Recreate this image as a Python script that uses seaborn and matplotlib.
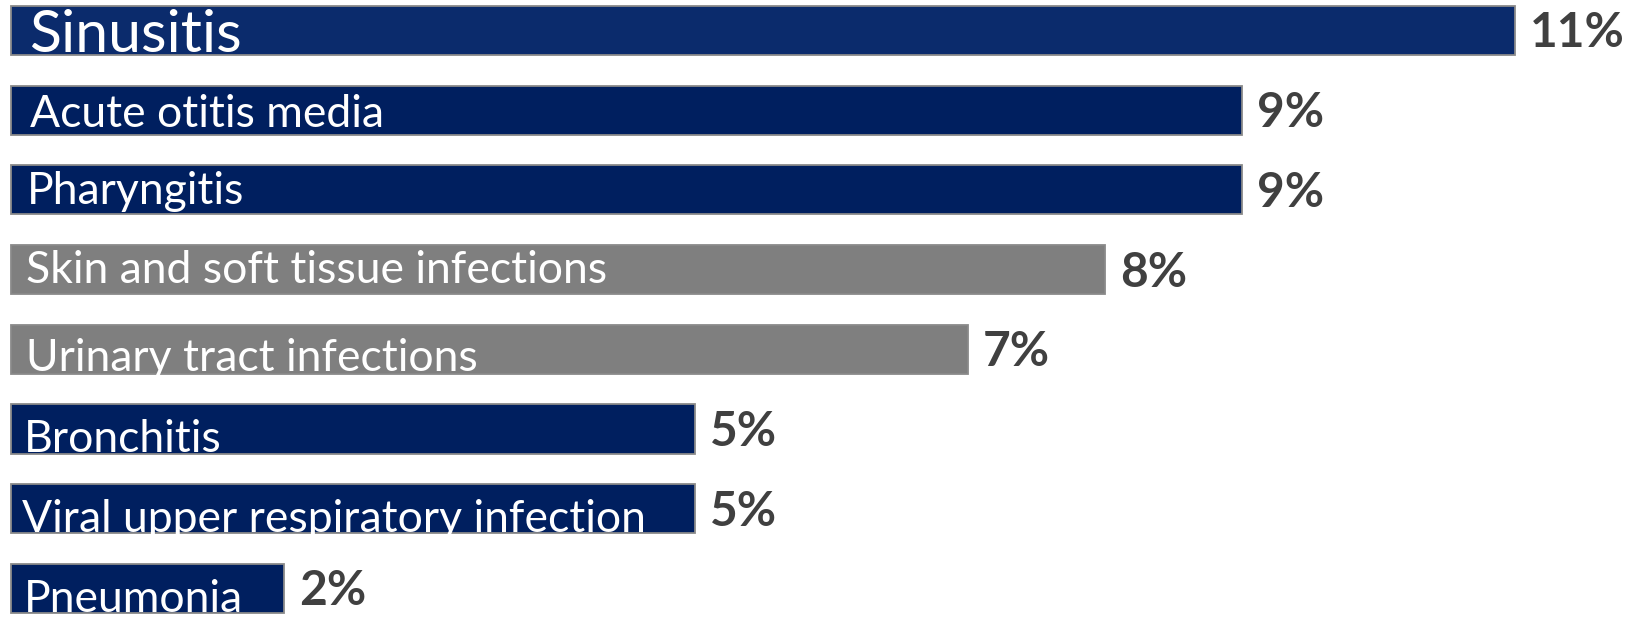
import matplotlib
matplotlib.use("Agg")
import matplotlib.pyplot as plt
import seaborn as sns
import pandas as pd

# Share of outpatient antibiotic prescriptions by condition
conditions = [
    "Sinusitis",
    "Acute otitis media",
    "Pharyngitis",
    "Skin and soft tissue infections",
    "Urinary tract infections",
    "Bronchitis",
    "Viral upper respiratory infection",
    "Pneumonia",
]
percent = [11, 9, 9, 8, 7, 5, 5, 2]
value_labels = ["11%", "9%", "9%", "8%", "7%", "5%", "5%", "2%"]

# Styling
bar_colors = ["#0B2B6C", "#001F5F", "#001F5F", "#7F7F7F",
              "#7F7F7F", "#001F5F", "#001F5F", "#001F5F"]
label_sizes = [42.5, 32, 32, 32, 32, 32, 32, 32]
label_x_px = [19, 19, 16, 15, 15, 13, 12, 13]        # inset from bar start
label_base_px = [3, 8, 10, 11, 3, 2, 1, 1]           # baseline above bar bottom

W, H, DPI = 1642, 617, 100
BAR_W = 0.617
PX_X = (1515.3 - 10.5) / 11.0
PX_Y = 79.7

sns.set_theme(style="white")
plt.rcParams["font.family"] = ["Lato", "DejaVu Sans"]

df = pd.DataFrame({"condition": conditions, "percent": percent})

fig = plt.figure(figsize=(W / DPI, H / DPI), dpi=DPI)
ax = fig.add_axes([0, 0, 1, 1])
sns.barplot(data=df, x="percent", y="condition", hue="condition",
            palette=dict(zip(conditions, bar_colors)), order=conditions,
            hue_order=conditions, width=BAR_W, legend=False,
            edgecolor="#8A8A8A", linewidth=1.3, saturation=1, ax=ax)

ax.set_xlim(-10.5 / PX_X, (W - 10.5) / PX_X)
ax.set_ylim(7 + (H - 588.5) / PX_Y, -30.4 / PX_Y)
ax.axis("off")

# map each drawn bar to its category row
bars = {}
for p in ax.patches:
    if p.get_width() > 0:
        idx = int(round(p.get_y() + p.get_height() / 2))
        bars[idx] = p

for i, (name, val) in enumerate(zip(conditions, percent)):
    patch = bars[i]
    y_bottom = i + BAR_W / 2
    t = ax.text(label_x_px[i] / PX_X, y_bottom - label_base_px[i] / PX_Y, name,
                color="white", fontsize=label_sizes[i], ha="left",
                va="baseline")
    t.set_clip_path(patch)
    ax.annotate(value_labels[i], xy=(val, i), xytext=(15 * 72 / DPI, -3 * 72 / DPI),
                textcoords="offset points", ha="left", va="center",
                fontsize=34.5, fontweight="bold", color="#404040")

fig.savefig("out.png", dpi=DPI)
